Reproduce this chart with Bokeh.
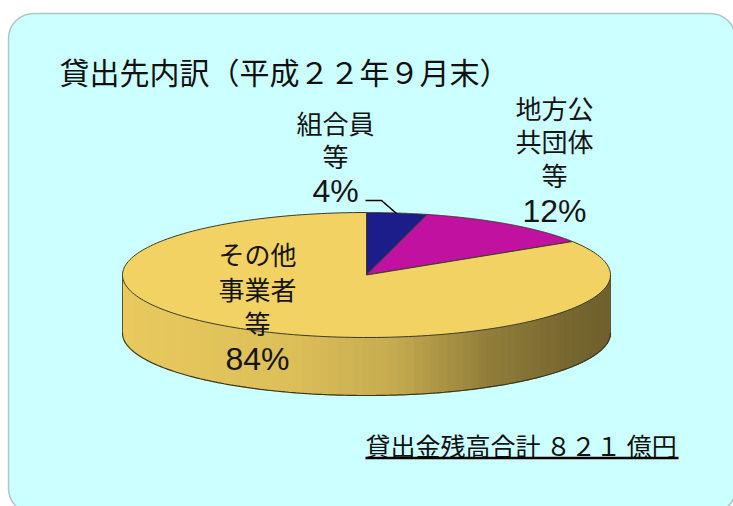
import numpy as np
from bokeh.plotting import figure
from bokeh.models import Range1d, BoxAnnotation
from bokeh.core.properties import value
from bokeh.embed import file_html
from bokeh.resources import INLINE

# ---------------- data ----------------
categories = ["組合員等", "地方公共団体等", "その他事業者等"]
shares = [4, 12, 84]
slice_colors = ["#1C1C8A", "#C011A0", "#F2D262"]
label_lines = [
    ["組合員", "等"],
    ["地方公", "共団体", "等"],
    ["その他", "事業者", "等"],
]
pct_labels = [f"{v}%" for v in shares]
title_text = "貸出先内訳（平成２２年９月末）"
total_text = "貸出金残高合計 ８２１ 億円"

# ---------------- layout ----------------
W, H = 733, 506
FONT = value("Noto Sans CJK JP")
NUMFONT = value("Liberation Sans")


def Y(py):
    return H - np.asarray(py, dtype=float)


p = figure(width=W, height=H, output_backend="svg", toolbar_location=None,
           x_range=Range1d(0, W), y_range=Range1d(0, H), min_border=0,
           background_fill_color="white", border_fill_color="white",
           outline_line_color=None)
p.axis.visible = False
p.grid.visible = False

# rounded panel
p.add_layout(BoxAnnotation(left=8, right=735, top=float(Y(13)), bottom=float(Y(513)),
                           border_radius=25, fill_color="#CCFFFF", fill_alpha=1.0,
                           line_color="#2f3f3f", line_width=1.5, level="underlay"))

# pie geometry (pixel space, y down)
cx, cy, rx, ry, depth = 366.0, 274.5, 244.0, 62.5, 58.0
frac = np.array(shares, dtype=float) / np.sum(shares)
bounds = 2 * np.pi * np.concatenate([[0.0], np.cumsum(frac)])


def ex(th):
    return cx + rx * np.sin(th)


def ey(th, dy=0.0):
    return cy - ry * np.cos(th) + dy


def hex_scale(c, f):
    r, g, b = int(c[1:3], 16), int(c[3:5], 16), int(c[5:7], 16)
    return "#%02x%02x%02x" % tuple(int(max(0, min(255, v * f))) for v in (r, g, b))


# side wall (visible front half: theta in [pi/2, 3pi/2])
sxs, sys, scol = [], [], []
for i in range(len(shares)):
    lo = max(bounds[i], np.pi / 2)
    hi = min(bounds[i + 1], 3 * np.pi / 2)
    if lo >= hi:
        continue
    th = np.linspace(lo, hi, 90)
    for a, b in zip(th[:-1], th[1:]):
        xs = [ex(a), ex(b), ex(b), ex(a)]
        ys = list(Y([ey(a), ey(b), ey(b, depth), ey(a, depth)]))
        t = ((ex(a) + ex(b)) / 2 - (cx - rx)) / (2 * rx)
        f = np.interp(t, [0.0, 0.35, 0.55, 0.75, 0.9, 1.0],
                      [0.96, 0.91, 0.82, 0.6, 0.5, 0.46])
        sxs.append(xs)
        sys.append(ys)
        scol.append(hex_scale(slice_colors[i], f))
p.patches(sxs, sys, fill_color=scol, line_color=scol, line_width=1)

# side outline
thb = np.linspace(np.pi / 2, 3 * np.pi / 2, 200)
p.line(ex(thb), Y(ey(thb, depth)), line_color="#3a3620", line_width=1.2)
for th in (np.pi / 2, 3 * np.pi / 2):
    p.line([ex(th), ex(th)], list(Y([ey(th), ey(th, depth)])),
           line_color="#5a5630", line_width=1)

# top faces
for i in range(len(shares)):
    th = np.linspace(bounds[i], bounds[i + 1], 200)
    xs = np.concatenate([[cx], ex(th)])
    ys = np.concatenate([Y([cy]), Y(ey(th))])
    p.patch(xs, ys, fill_color=slice_colors[i], line_color="#3c3a2a", line_width=1)

# labels
label_pos = [(335, [122, 155], 190), (554, [107, 140, 174], 210),
             (257, [253, 288, 322], 358)]
lx, ly, lt = [], [], []
px_, py_ = [], []
for (x0, yy, yp), lines, pct in zip(label_pos, label_lines, pct_labels):
    for yv, s in zip(yy, lines):
        lx.append(x0)
        ly.append(float(Y(yv)))
        lt.append(s)
    px_.append(x0)
    py_.append(float(Y(yp)))
p.text(lx, ly, text=lt, text_font=FONT, text_font_size="26px",
       text_align="center", text_baseline="middle", text_color="#151515")
p.text(px_, py_, text=pct_labels, text_font=NUMFONT, text_font_size="32px",
       text_align="center", text_baseline="middle", text_color="#151515")

# leader line for small slice
p.line([365, 381, 396], list(Y([200, 200, 213])), line_color="black", line_width=1.6)

# title
p.text([59], [float(Y(70))], text=[title_text], text_font=FONT, text_font_size="30px",
       text_align="left", text_baseline="middle", text_color="#111111")

# total
p.text([365], [float(Y(444))], text=[total_text], text_font=FONT, text_font_size="25px",
       text_align="left", text_baseline="middle", text_color="#111111")
p.line([365, 678], list(Y([457.5, 457.5])), line_color="black", line_width=2.5)

open("out.html", "w").write(file_html(p, INLINE))
